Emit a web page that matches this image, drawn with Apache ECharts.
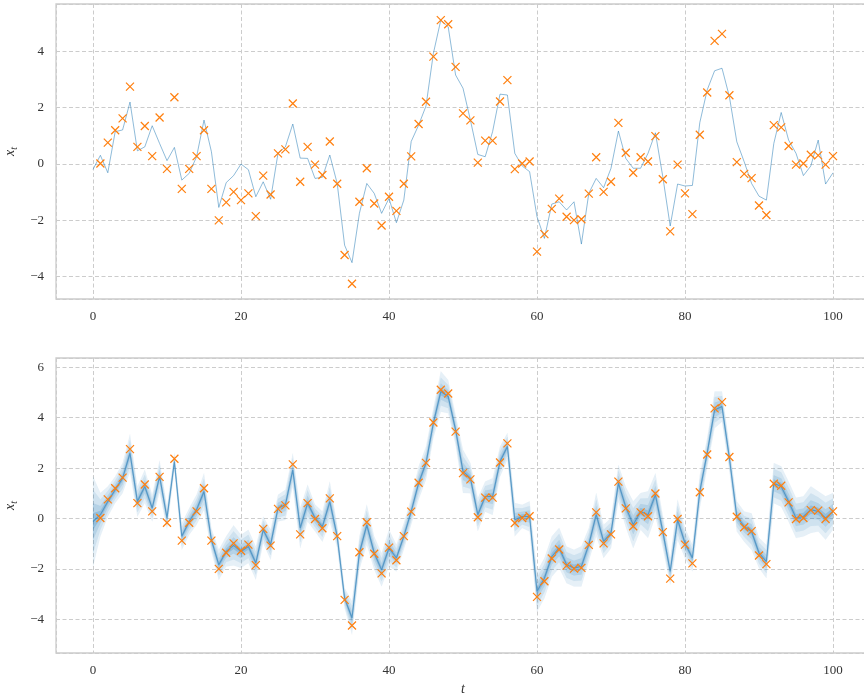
<!DOCTYPE html>
<html>
<head>
<meta charset="utf-8">
<script src="https://cdn.jsdelivr.net/npm/echarts@6/dist/echarts.min.js"></script>
<style>
html,body{margin:0;padding:0;background:#fff;}
#chart{width:864px;height:696px;}
</style>
</head>
<body>
<div id="chart"></div>
<script>
// time steps 0..100
const steps = Array.from({length: 101}, (_, i) => i);

// true latent state x_t, t = 0..100 (top panel line)
const trueState = [
  -0.19, 0.31, -0.31, 1.15, 1.21, 2.20, 0.47, 0.61, 1.36, 0.73,
  0.12, 0.59, -0.57, -0.33, 0.26, 1.56, 0.44, -1.54, -0.66, -0.41,
  0.00, -0.20, -1.16, -0.63, -1.25, 0.38, 0.61, 1.42, 0.21, 0.20,
  -0.51, -0.47, 0.32, -0.69, -2.88, -3.50, -1.75, -0.69, -1.04, -1.75,
  -1.22, -2.08, -1.28, 0.80, 1.38, 2.06, 3.93, 5.11, 4.87, 3.16,
  2.69, 1.56, 0.34, 0.26, 1.15, 2.48, 2.45, 0.38, -0.07, -0.27,
  -1.87, -2.64, -1.42, -1.34, -1.63, -1.34, -2.84, -1.04, -0.51, -0.84,
  -0.15, 1.17, 0.20, -0.15, -0.15, 0.38, 1.11, -0.45, -2.20, -0.71,
  -0.78, -0.76, 1.47, 2.63, 3.31, 3.40, 2.39, 0.79, 0.08, -0.69,
  -1.14, -1.28, 0.73, 1.83, 0.85, 0.38, -0.41, -0.07, 0.85, -0.71, -0.31
];

// observations y_t, t = 1..100 (orange crosses)
const obsSteps = steps.slice(1);
const observations = [
  0.02, 0.76, 1.20, 1.62, 2.75, 0.61, 1.35, 0.28, 1.65, -0.17,
  2.37, -0.88, -0.17, 0.28, 1.20, -0.88, -2.00, -1.36, -0.99, -1.28,
  -1.04, -1.85, -0.41, -1.08, 0.38, 0.52, 2.15, -0.63, 0.61, -0.02,
  -0.39, 0.80, -0.70, -3.23, -4.25, -1.34, -0.15, -1.40, -2.18, -1.16,
  -1.66, -0.70, 0.27, 1.42, 2.21, 3.81, 5.11, 4.96, 3.45, 1.80,
  1.55, 0.05, 0.83, 0.83, 2.22, 2.98, -0.18, 0.02, 0.09, -3.11,
  -2.49, -1.59, -1.23, -1.87, -1.99, -1.96, -1.05, 0.24, -0.99, -0.63,
  1.46, 0.40, -0.31, 0.24, 0.09, 0.99, -0.54, -2.39, -0.02, -1.04,
  -1.78, 1.04, 2.54, 4.37, 4.62, 2.44, 0.07, -0.35, -0.50, -1.47,
  -1.81, 1.38, 1.30, 0.64, -0.02, 0.02, 0.33, 0.31, -0.02, 0.28
];

// particle ensemble (bottom panel): centre of the bundle and half-width of its envelope
const particleCentre = [
  -0.12, 0.15, 0.67, 1.14, 1.60, 2.59, 0.67, 1.27, 0.41, 1.67,
  0.02, 2.26, -0.71, -0.12, 0.35, 1.07, -0.85, -1.84, -1.31, -1.07,
  -1.31, -1.11, -1.77, -0.45, -1.04, 0.41, 0.54, 1.93, -0.38, 0.61,
  0.02, -0.32, 0.67, -0.71, -3.16, -3.95, -1.37, -0.25, -1.37, -2.04,
  -1.17, -1.57, -0.71, 0.28, 1.40, 2.20, 3.79, 5.04, 4.84, 3.52,
  1.87, 1.60, 0.15, 0.87, 0.87, 2.26, 2.86, -0.05, 0.08, 0.08,
  -2.90, -2.37, -1.51, -1.17, -1.84, -1.97, -1.90, -1.04, 0.15, -0.91,
  -0.58, 1.40, 0.45, -0.25, 0.28, 0.15, 0.94, -0.52, -2.10, -0.05,
  -0.98, -1.57, 1.07, 2.60, 4.31, 4.44, 2.40, 0.08, -0.32, -0.52,
  -1.37, -1.71, 1.40, 1.27, 0.67, 0.02, 0.08, 0.35, 0.28, 0.02, 0.28
];
const particleSpread = [
  1.80, 0.86, 0.60, 0.53, 0.60, 0.75, 0.60, 0.66, 0.53, 0.63,
  0.46, 0.35, 0.53, 0.53, 0.60, 0.73, 0.46, 0.60, 0.60, 0.80,
  0.66, 0.66, 0.66, 0.53, 0.60, 0.53, 0.60, 0.66, 0.80, 0.73,
  0.53, 0.60, 0.80, 0.46, 0.40, 0.66, 0.66, 0.80, 0.66, 0.66,
  0.73, 0.53, 0.53, 0.53, 0.66, 0.66, 0.60, 0.80, 0.66, 0.60,
  0.86, 0.60, 0.66, 0.60, 0.73, 0.60, 0.53, 0.66, 0.46, 0.60,
  0.80, 0.80, 0.80, 0.80, 0.73, 0.73, 0.80, 0.66, 0.86, 0.66,
  0.60, 0.73, 0.80, 0.93, 0.73, 0.93, 0.86, 0.66, 0.53, 0.80,
  0.60, 0.53, 0.66, 0.60, 0.73, 0.60, 0.53, 0.60, 0.60, 0.73,
  0.60, 0.66, 0.80, 0.80, 0.80, 0.80, 0.80, 0.93, 0.80, 0.86, 0.73
];

const FONT = "'Liberation Serif', 'DejaVu Serif', serif";
const BLUE = '#1f77b4';
const ORANGE = '#ff7f0e';
const GRID_COL = '#cccccc';
const XMARK = 'path://M0,0L10,10M10,0L0,10';

function fmt(v) {
  return v < 0 ? '\u2212' + Math.abs(v) : String(v);
}

function xAxisCfg(idx, withName) {
  const a = {
    type: 'value', gridIndex: idx, min: -5, max: 105,
    axisLine: {show: false}, axisTick: {show: false},
    axisLabel: {margin: 11, fontFamily: FONT, fontSize: 13, color: '#333',
      showMinLabel: false, showMaxLabel: false, formatter: fmt},
    splitLine: {show: true, lineStyle: {color: GRID_COL, type: [4, 2.5], width: 1}}
  };
  if (withName) {
    a.name = 't';
    a.nameLocation = 'middle';
    a.nameGap = 29;
    a.nameTextStyle = {fontFamily: FONT, fontStyle: 'italic', fontSize: 14, color: '#333'};
  }
  return a;
}

function yAxisCfg(idx, mn, mx) {
  return {
    type: 'value', gridIndex: idx, min: mn, max: mx,
    axisLine: {show: false}, axisTick: {show: false},
    axisLabel: {margin: 12, fontFamily: FONT, fontSize: 13, color: '#333',
      showMinLabel: false, showMaxLabel: false, formatter: fmt},
    splitLine: {show: true, lineStyle: {color: GRID_COL, type: [4, 2.5], width: 1}},
    name: '{x|x}{t|t}', nameLocation: 'middle', nameGap: 36, nameRotate: 90,
    nameTextStyle: {
      color: '#333',
      rich: {
        x: {fontFamily: FONT, fontStyle: 'italic', fontSize: 14, color: '#333'},
        t: {fontFamily: FONT, fontStyle: 'italic', fontSize: 10, color: '#333', padding: [8, 0, 0, 0]}
      }
    }
  };
}

const pairs = (xs, ys) => xs.map((x, i) => [x, ys[i]]);

const series = [];
// top: true state
series.push({
  type: 'line', xAxisIndex: 0, yAxisIndex: 0, data: pairs(steps, trueState),
  showSymbol: false, symbol: 'none',
  lineStyle: {color: BLUE, width: 1, opacity: 0.5}, z: 2
});
series.push({
  type: 'scatter', xAxisIndex: 0, yAxisIndex: 0, data: pairs(obsSteps, observations),
  symbol: XMARK, symbolSize: 8,
  itemStyle: {color: 'rgba(0,0,0,0)', borderColor: ORANGE, borderWidth: 1.2, opacity: 1}, z: 5
});

// bottom: particle envelope bands drawn as polygons via the axis scales
const bands = [
  {k: 1.0, a: 0.11},
  {k: 0.7, a: 0.11},
  {k: 0.4, a: 0.15},
  {k: 0.18, a: 0.22}
];
bands.forEach((b) => {
  series.push({
    type: 'custom', xAxisIndex: 1, yAxisIndex: 1, silent: true, z: 2,
    data: steps.map((t, i) => [t, particleCentre[i] - b.k * particleSpread[i], particleCentre[i] + b.k * particleSpread[i]]),
    encode: {x: 0, y: [1, 2]},
    renderItem: function (params, api) {
      if (params.dataIndex !== 0) return null;
      const upper = [], lower = [];
      for (let i = 0; i < steps.length; i++) {
        const lo = particleCentre[i] - b.k * particleSpread[i];
        const hi = particleCentre[i] + b.k * particleSpread[i];
        lower.push(api.coord([steps[i], lo]));
        upper.push(api.coord([steps[i], hi]));
      }
      const pts = upper.concat(lower.reverse());
      return {
        type: 'polygon',
        shape: {points: pts},
        style: {fill: BLUE, opacity: b.a, stroke: 'rgba(31,119,180,0.3)', lineWidth: 0.5}
      };
    }
  });
});
series.push({
  type: 'line', xAxisIndex: 1, yAxisIndex: 1, data: pairs(steps, particleCentre),
  symbol: 'none', showSymbol: false,
  lineStyle: {color: BLUE, width: 1.1, opacity: 0.55}, z: 3
});
series.push({
  type: 'scatter', xAxisIndex: 1, yAxisIndex: 1, data: pairs(obsSteps, observations),
  symbol: XMARK, symbolSize: 8,
  itemStyle: {color: 'rgba(0,0,0,0)', borderColor: ORANGE, borderWidth: 1.2, opacity: 1}, z: 5
});

const gridBase = {left: 56, right: -6, height: 295, show: true, borderColor: GRID_COL,
  borderWidth: 1.3, backgroundColor: 'transparent', containLabel: false, outerBoundsMode: 'none'};

const chart = echarts.init(document.getElementById('chart'), null, {renderer: 'canvas'});
chart.setOption({
  animation: false,
  backgroundColor: '#ffffff',
  grid: [
    Object.assign({}, gridBase, {top: 4}),
    Object.assign({}, gridBase, {top: 358})
  ],
  xAxis: [xAxisCfg(0, false), xAxisCfg(1, true)],
  yAxis: [yAxisCfg(0, -4.79, 5.68), yAxisCfg(1, -5.34, 6.37)],
  series: series
});
</script>
</body>
</html>
